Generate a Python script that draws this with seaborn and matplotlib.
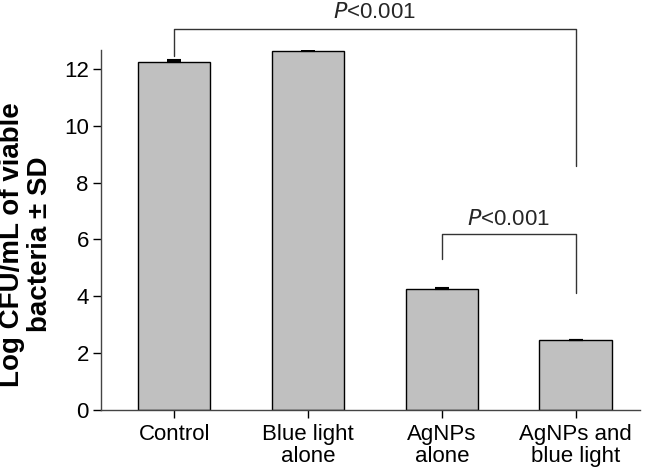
import matplotlib
matplotlib.use("Agg")
import matplotlib.pyplot as plt
import seaborn as sns
import pandas as pd

groups = ["Control", "Blue light\nalone", "AgNPs\nalone", "AgNPs and\nblue light"]
log_cfu = [12.25, 12.65, 4.25, 2.45]
sd = [0.08, 0.03, 0.05, 0.0]
y_ticks = [0, 2, 4, 6, 8, 10, 12]

sns.set_theme(style="white")
plt.rcParams["font.family"] = ["Liberation Sans", "DejaVu Sans"]

df = pd.DataFrame({"group": groups, "value": log_cfu})

fig = plt.figure(figsize=(6.45, 4.7), dpi=100)
ax = fig.add_axes([0.157, 0.128, 0.835, 0.766])

sns.barplot(data=df, x="group", y="value", color="#c0c0c0", edgecolor="black",
            linewidth=1.0, width=0.54, saturation=1, errorbar=None, ax=ax)
ax.errorbar(range(len(groups)), log_cfu, yerr=[[0] * len(sd), sd], fmt="none",
            ecolor="black", elinewidth=1, capsize=5, capthick=1.5)

ax.set_xlim(-0.545, 3.48)
ax.set_ylim(0, 12.68)
ax.set_yticks(y_ticks)
ax.set_xlabel("")
ax.set_ylabel("Log CFU/mL of viable\nbacteria ± SD", fontsize=20, fontweight="bold",
              color="black", linespacing=1.08)
ax.yaxis.set_label_coords(-0.09, 0.46)
ax.tick_params(axis="both", labelsize=16, colors="black", length=6, width=1,
               direction="out", bottom=True, left=True)
ax.tick_params(axis="x", pad=4)
ax.tick_params(axis="y", pad=3)
for lab in ax.get_xticklabels():
    lab.set_linespacing(1.1)
for side in ["top", "right"]:
    ax.spines[side].set_visible(False)
for side in ["left", "bottom"]:
    ax.spines[side].set_color("#444444")
    ax.spines[side].set_linewidth(1)

# significance brackets
lc = "#333333"
ax.plot([0, 0, 3, 3], [12.45, 13.4, 13.4, 8.6], color=lc, lw=1, clip_on=False)
ax.text(1.5, 14.0, "$\\it{P}$<0.001", ha="center", va="center", fontsize=16)
ax.plot([2, 2, 3, 3], [5.3, 6.2, 6.2, 4.1], color=lc, lw=1, clip_on=False)
ax.text(2.5, 6.7, "$\\it{P}$<0.001", ha="center", va="center", fontsize=16)

fig.savefig("out.png", dpi=100)
